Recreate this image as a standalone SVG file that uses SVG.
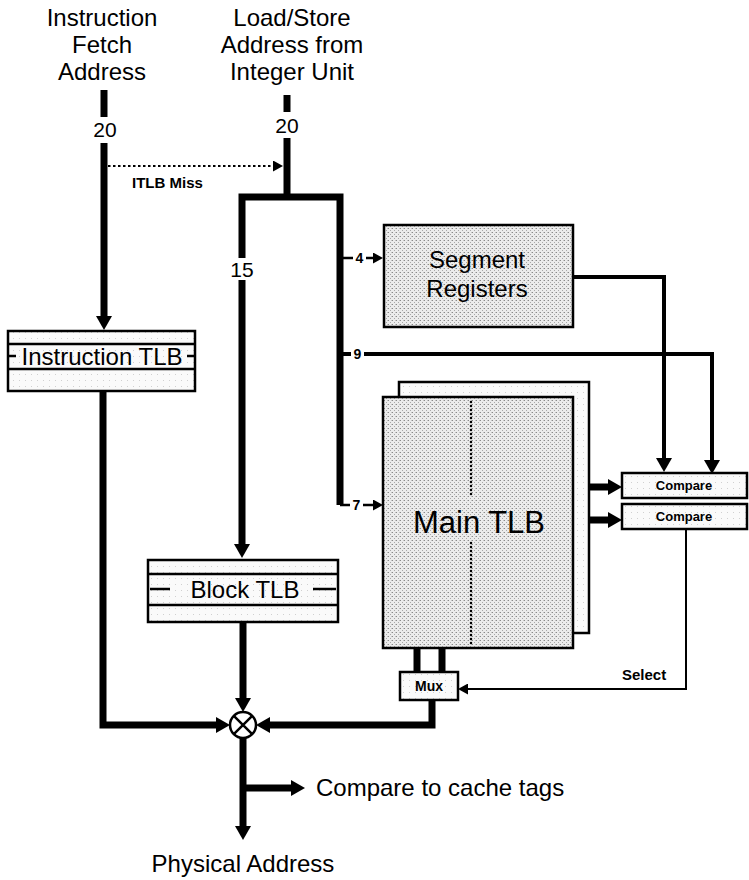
<svg xmlns="http://www.w3.org/2000/svg" width="749" height="880" viewBox="0 0 749 880">
<defs>
<pattern id="stip" width="4" height="4" patternUnits="userSpaceOnUse">
<rect width="4" height="4" fill="#ececec"/>
<rect x="0" y="0" width="1" height="1" fill="#8a8a8a"/>
<rect x="2" y="2" width="1" height="1" fill="#a8a8a8"/>
<rect x="3" y="0" width="1" height="1" fill="#c4c4c4"/>
</pattern>
<pattern id="light" width="6" height="6" patternUnits="userSpaceOnUse">
<rect width="6" height="6" fill="#fafafa"/>
<rect x="1" y="2" width="1" height="1" fill="#d0d0d0"/>
</pattern>
<marker id="big" markerUnits="userSpaceOnUse" markerWidth="16" markerHeight="16" refX="0" refY="8" orient="auto">
<path d="M0,0 L14,8 L0,16 z" fill="#000"/>
</marker>
<marker id="sm" markerUnits="userSpaceOnUse" markerWidth="11" markerHeight="11" refX="0" refY="5.5" orient="auto">
<path d="M0,0 L10,5.5 L0,11 z" fill="#000"/>
</marker>
</defs>
<style>
text{font-family:"Liberation Sans",Arial,Helvetica,sans-serif;fill:#000}
.big{font-size:24px}
.lbl{font-size:21px}
.sm{font-size:14px;font-weight:bold}
.cmp{font-size:13px;font-weight:bold}
.box{stroke:#000;stroke-width:2.5}
.thk{fill:none;stroke:#000;stroke-width:7}
.med{fill:none;stroke:#000;stroke-width:4}
.thin{fill:none;stroke:#000;stroke-width:2.5}
</style>

<g id="labels">
<text class="big" x="102" y="26" text-anchor="middle">Instruction</text>
<text class="big" x="102" y="53" text-anchor="middle">Fetch</text>
<text class="big" x="102" y="80" text-anchor="middle">Address</text>
<text class="big" x="292" y="26" text-anchor="middle">Load/Store</text>
<text class="big" x="292" y="53" text-anchor="middle">Address from</text>
<text class="big" x="292" y="80" text-anchor="middle">Integer Unit</text>
<text class="big" x="243" y="872" text-anchor="middle">Physical Address</text>
<text class="big" x="316" y="796">Compare to cache tags</text>
</g>

<g id="connectors">
<line class="thk" x1="104" y1="90" x2="104" y2="117"/>
<text class="lbl" x="105" y="137" text-anchor="middle">20</text>
<path class="thk" d="M104,143 V316" marker-end="url(#big)"/>
<line class="thk" x1="287" y1="95" x2="287" y2="112"/>
<text class="lbl" x="287" y="133" text-anchor="middle">20</text>
<line class="thk" x1="287" y1="138" x2="287" y2="197"/>
<path d="M108,166 H273" fill="none" stroke="#000" stroke-width="2" stroke-dasharray="2.5 2.5" marker-end="url(#sm)"/>
<text class="sm" x="132" y="188" style="font-size:15px">ITLB Miss</text>
<path class="thk" d="M340,505 V197 H242 V544" stroke-linejoin="miter" marker-end="url(#big)"/>
<rect x="230" y="258" width="24" height="22" fill="#fff"/>
<text class="lbl" x="242" y="277" text-anchor="middle">15</text>
<path class="thin" d="M340,258 H373" marker-end="url(#sm)"/>
<rect x="353" y="250" width="13" height="16" fill="#fff"/>
<text class="sm" x="359.5" y="263" text-anchor="middle">4</text>
<path class="med" d="M340,354 H712 V460" marker-end="url(#big)"/>
<rect x="351" y="346" width="13" height="16" fill="#fff"/>
<text class="sm" x="357.5" y="359" text-anchor="middle">9</text>
<path class="thin" d="M340,505 H373" marker-end="url(#sm)"/>
<rect x="350" y="497" width="13" height="16" fill="#fff"/>
<text class="sm" x="356.5" y="510" text-anchor="middle">7</text>
<path class="med" d="M573,277 H664 V458" marker-end="url(#big)"/>
<path class="thk" d="M589,487 H608" marker-end="url(#big)"/>
<path class="thk" d="M573,520 H608" marker-end="url(#big)"/>
<path d="M686,529 V689 H468" fill="none" stroke="#000" stroke-width="2" marker-end="url(#sm)"/>
<text class="sm" x="622" y="680" style="font-size:15px">Select</text>
<line class="thk" x1="417" y1="648" x2="417" y2="672"/>
<line class="thk" x1="442" y1="648" x2="442" y2="672"/>
<path class="thk" d="M432,700 V725 H270" marker-end="url(#big)"/>
<path class="thk" d="M103,392 V725 H216" marker-end="url(#big)"/>
<path class="thk" d="M243,622 V698" marker-end="url(#big)"/>
<path class="thk" d="M243,738 V826" marker-end="url(#big)"/>
<path class="thk" d="M243,788 H291" marker-end="url(#big)"/>
</g>

<g id="itlb">
<rect class="box" x="8" y="331" width="187" height="60" fill="url(#light)"/>
<line class="box" x1="8" y1="344" x2="195" y2="344"/>
<line class="box" x1="8" y1="369" x2="195" y2="369"/>
<line class="box" x1="8" y1="356" x2="16" y2="356"/>
<line class="box" x1="187" y1="356" x2="195" y2="356"/>
<text class="big" x="102" y="365" text-anchor="middle">Instruction TLB</text>
</g>

<g id="btlb">
<rect class="box" x="148" y="560" width="190" height="62" fill="url(#light)"/>
<line class="box" x1="148" y1="574" x2="338" y2="574"/>
<line class="box" x1="148" y1="605" x2="338" y2="605"/>
<line class="box" x1="150" y1="589" x2="170" y2="589"/>
<line class="box" x1="313" y1="589" x2="336" y2="589"/>
<text class="big" x="245" y="598" text-anchor="middle">Block TLB</text>
</g>

<g id="segreg">
<rect class="box" x="384" y="225" width="189" height="102" fill="url(#stip)"/>
<text class="big" x="477" y="268" text-anchor="middle">Segment</text>
<text class="big" x="477" y="297" text-anchor="middle">Registers</text>
</g>

<g id="maintlb">
<rect class="box" x="399" y="382" width="190" height="251" fill="url(#light)"/>
<rect class="box" x="383" y="397" width="190" height="251" fill="url(#stip)"/>
<line x1="471" y1="402" x2="471" y2="495" stroke="#000" stroke-width="2.5" stroke-linecap="round" stroke-dasharray="0 4"/>
<line x1="471" y1="543" x2="471" y2="645" stroke="#000" stroke-width="2.5" stroke-linecap="round" stroke-dasharray="0 4"/>
<text x="479" y="533" text-anchor="middle" style="font-size:31px">Main TLB</text>
</g>

<g id="compare1">
<rect class="box" x="622" y="473" width="125" height="25" fill="url(#light)"/>
<text class="cmp" x="684" y="490" text-anchor="middle">Compare</text>
</g>
<g id="compare2">
<rect class="box" x="622" y="504" width="125" height="25" fill="url(#light)"/>
<text class="cmp" x="684" y="521" text-anchor="middle">Compare</text>
</g>

<g id="mux">
<rect class="box" x="400" y="672" width="58" height="28" fill="url(#light)"/>
<text class="sm" x="429" y="691" text-anchor="middle">Mux</text>
</g>

<g id="xor">
<circle cx="243" cy="725" r="13" fill="#fff" stroke="#000" stroke-width="2.5"/>
<path d="M233.8,715.8 L252.2,734.2 M252.2,715.8 L233.8,734.2" stroke="#000" stroke-width="2.5"/>
</g>
</svg>
